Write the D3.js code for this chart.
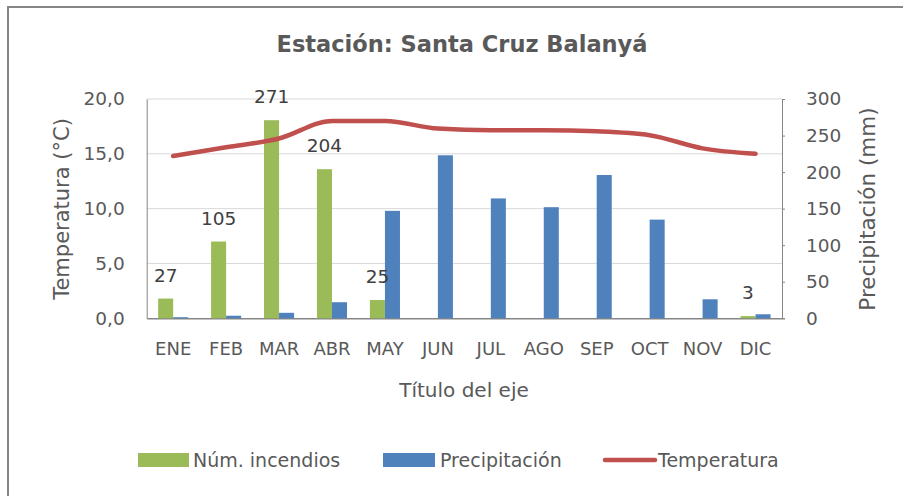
<!DOCTYPE html>
<html>
<head>
<meta charset="utf-8">
<script src="https://cdn.jsdelivr.net/npm/d3@7"></script>
<style>
  body { margin: 0; background: #fff; }
  text { font-family: "DejaVu Sans", "Noto Sans", sans-serif; }
</style>
</head>
<body>
<div id="canvas"></div>
<script>
// data
var months = ['ENE','FEB','MAR','ABR','MAY','JUN','JUL','AGO','SEP','OCT','NOV','DIC'];
var incendios = [27, 105, 271, 204, 25, 0, 0, 0, 0, 0, 0, 3];
var precipitacion = [1.5, 3.5, 7.5, 22, 147, 223, 164, 152, 196, 135, 26, 5.5];
var temperatura = [14.8, 15.6, 16.4, 18.0, 18.0, 17.3, 17.15, 17.15, 17.05, 16.7, 15.5, 15.0];
var tempTicks = [0, 5, 10, 15, 20];
var precTicks = [0, 50, 100, 150, 200, 250, 300];

var W = 903, H = 496;
var pLeft = 146.7, pRight = 782, pTop = 99, pBottom = 318.3;

var svg = d3.select('#canvas').append('svg')
  .attr('width', W)
  .attr('height', H);

svg.append('rect')
  .attr('x', 8).attr('y', 7)
  .attr('width', 920).attr('height', 520)
  .attr('fill', 'white')
  .attr('stroke', '#868686')
  .attr('stroke-width', 2);

var x = d3.scaleBand().domain(months).range([pLeft, pRight]);
var yT = d3.scaleLinear().domain([0, 20]).range([pBottom, pTop]);
var yP = d3.scaleLinear().domain([0, 300]).range([pBottom, pTop]);
var bw = x.bandwidth() * 0.284;

// title
svg.append('text')
  .attr('x', 462).attr('y', 52)
  .attr('text-anchor', 'middle')
  .style('font-size', '22.5px')
  .style('font-weight', 'bold')
  .attr('fill', '#595959')
  .text('Estación: Santa Cruz Balanyá');

// grid
svg.append('g').selectAll('line')
  .data(tempTicks.filter(function(d) { return d > 0; }))
  .join('line')
  .attr('x1', pLeft).attr('x2', pRight)
  .attr('y1', function(d) { return yT(d); })
  .attr('y2', function(d) { return yT(d); })
  .attr('stroke', '#D9D9D9')
  .attr('stroke-width', 1);

// left axis
var axL = svg.append('g')
  .attr('transform', 'translate(' + pLeft + ',0)')
  .call(d3.axisLeft(yT).tickValues(tempTicks).tickSize(0).tickPadding(22)
    .tickFormat(function(d) { return d3.format('.1f')(d).replace('.', ','); }));
axL.select('.domain').attr('stroke', '#868686');
axL.selectAll('text').style('font-size', '18.5px').attr('fill', '#595959');

// right axis
var axR = svg.append('g')
  .attr('transform', 'translate(' + pRight + ',0)')
  .call(d3.axisRight(yP).tickValues(precTicks).tickSize(3).tickPadding(21));
axR.select('.domain').attr('stroke', '#868686');
axR.selectAll('line').attr('stroke', '#868686');
axR.selectAll('text').style('font-size', '18.5px').attr('fill', '#595959');

// bottom axis
var axB = svg.append('g')
  .attr('transform', 'translate(0,' + pBottom + ')')
  .call(d3.axisBottom(x).tickSize(0).tickPadding(24));
axB.select('.domain').attr('stroke', '#868686').attr('stroke-width', 1.5);
axB.selectAll('text').style('font-size', '18px').attr('fill', '#595959');

// axis titles
svg.append('text')
  .attr('transform', 'translate(69,209) rotate(-90)')
  .attr('text-anchor', 'middle')
  .style('font-size', '21px')
  .attr('fill', '#595959')
  .text('Temperatura (°C)');

svg.append('text')
  .attr('transform', 'translate(875,209) rotate(-90)')
  .attr('text-anchor', 'middle')
  .style('font-size', '21.5px')
  .attr('fill', '#595959')
  .text('Precipitación (mm)');

svg.append('text')
  .attr('x', 464).attr('y', 397)
  .attr('text-anchor', 'middle')
  .style('font-size', '20px')
  .attr('fill', '#595959')
  .text('Título del eje');

// bars
var bars = svg.append('g');
bars.selectAll('.inc')
  .data(months)
  .join('rect')
  .attr('class', 'inc')
  .attr('x', function(d) { return x(d) + x.bandwidth() / 2 - bw; })
  .attr('width', bw)
  .attr('y', function(d, i) { return yP(incendios[i]); })
  .attr('height', function(d, i) { return pBottom - yP(incendios[i]); })
  .attr('fill', '#9BBB59');

bars.selectAll('.pre')
  .data(months)
  .join('rect')
  .attr('class', 'pre')
  .attr('x', function(d) { return x(d) + x.bandwidth() / 2; })
  .attr('width', bw)
  .attr('y', function(d, i) { return yP(precipitacion[i]); })
  .attr('height', function(d, i) { return pBottom - yP(precipitacion[i]); })
  .attr('fill', '#4F81BD');

// labels for incendios
svg.append('g').selectAll('text')
  .data(months.filter(function(d, i) { return incendios[i] > 0; }))
  .join('text')
  .attr('x', function(d) { return x(d) + x.bandwidth() / 2 - bw / 2; })
  .attr('y', function(d) { return yP(incendios[months.indexOf(d)]) - 17; })
  .attr('text-anchor', 'middle')
  .style('font-size', '18.5px')
  .attr('fill', '#404040')
  .text(function(d) { return incendios[months.indexOf(d)]; });

// temperature line
var line = d3.line()
  .x(function(d, i) { return x(months[i]) + x.bandwidth() / 2; })
  .y(function(d) { return yT(d); })
  .curve(d3.curveMonotoneX);

svg.append('path')
  .datum(temperatura)
  .attr('d', line)
  .attr('fill', 'none')
  .attr('stroke', '#C0504D')
  .attr('stroke-width', 4.5)
  .attr('stroke-linecap', 'round');

// legend
var legend = svg.append('g');
legend.append('rect').attr('x', 138).attr('y', 453).attr('width', 51).attr('height', 14).attr('fill', '#9BBB59');
legend.append('text').attr('x', 193).attr('y', 467).style('font-size', '19px').attr('fill', '#595959').text('Núm. incendios');
legend.append('rect').attr('x', 383).attr('y', 453).attr('width', 52).attr('height', 14).attr('fill', '#4F81BD');
legend.append('text').attr('x', 440).attr('y', 467).style('font-size', '19px').attr('fill', '#595959').text('Precipitación');
legend.append('line').attr('x1', 605).attr('x2', 655).attr('y1', 460).attr('y2', 460)
  .attr('stroke', '#C0504D').attr('stroke-width', 4.5).attr('stroke-linecap', 'round');
legend.append('text').attr('x', 658).attr('y', 467).style('font-size', '19px').attr('fill', '#595959').text('Temperatura');
</script>
</body>
</html>
